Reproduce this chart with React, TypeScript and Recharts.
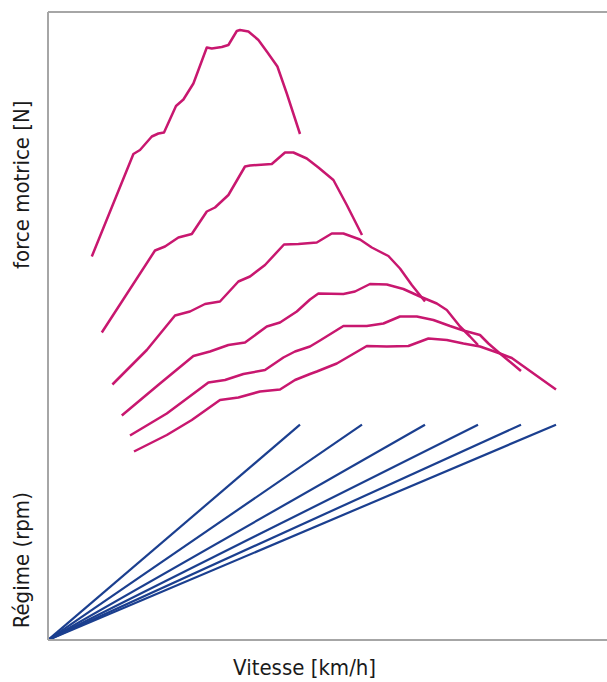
import React from 'react';
import { LineChart, Line, XAxis, YAxis, ReferenceLine } from 'recharts';

// speed [km/h], traction force [N] per gear
const gear1: [number, number][] = [
  [21.9, 7670], [42.7, 9720], [46, 9800], [51.9, 10070], [55.2, 10130], [58, 10150],
  [64, 10680], [67.7, 10810], [72.7, 11130], [79.4, 11850], [81.9, 11830], [86.9, 11860],
  [90.2, 11900], [94.4, 12180], [96, 12200], [100.2, 12170], [105.2, 12000], [109.4, 11770],
  [114.7, 11470], [119.4, 10930], [126, 10120],
];
const gear2: [number, number][] = [
  [26.9, 6150], [53.5, 7790], [58.5, 7870], [65.2, 8050], [71.9, 8120], [79.4, 8570],
  [83.5, 8650], [90.2, 8900], [98.5, 9470], [101, 9490], [111.9, 9520], [118.5, 9750],
  [122.7, 9750], [129.4, 9630], [135.2, 9450], [142.7, 9200], [149.4, 8700], [157, 8100],
];
const gear3: [number, number][] = [
  [32.2, 5110], [49.4, 5800], [63.5, 6490], [71, 6570], [78.5, 6720], [86, 6770],
  [95.2, 7170], [101, 7270], [108.5, 7500], [118, 7910], [125.2, 7920], [134.4, 7950],
  [141.9, 8130], [147.7, 8130], [156, 8010], [161.9, 7850], [170.2, 7680], [176, 7430],
  [181.9, 7100], [188.5, 6770],
];
const gear4: [number, number][] = [
  [36.9, 4490], [56, 5130], [72.7, 5680], [81, 5770], [90.2, 5900], [98.5, 5950],
  [109.4, 6270], [116, 6350], [124.4, 6570], [131, 6810], [135.2, 6930], [147.7, 6920],
  [153.5, 6970], [161, 7120], [169.4, 7110], [177.7, 7020], [186, 6870], [194.4, 6730],
  [199.4, 6600], [206, 6270], [211, 6070], [215, 5900],
];
const gear5: [number, number][] = [
  [41, 4090], [59.4, 4530], [80.2, 5150], [88.5, 5200], [97.7, 5320], [108.5, 5400],
  [117.7, 5650], [123.5, 5770], [131, 5870], [136, 5990], [147.7, 6280], [159.4, 6280],
  [167.7, 6330], [176, 6470], [184.4, 6470], [192.7, 6400], [201, 6280], [207.7, 6190],
  [216, 6100], [220.2, 5930], [226, 5730], [236.5, 5380],
];
const gear6: [number, number][] = [
  [43, 3770], [59.4, 4100], [71.9, 4400], [86, 4800], [95.2, 4850], [106, 4970],
  [116, 5010], [123.5, 5200], [131, 5320], [134.4, 5370], [144.4, 5530], [159.4, 5880],
  [169.4, 5870], [180.2, 5880], [190.2, 6030], [199.4, 6000], [207.7, 5930], [216, 5870],
  [226, 5730], [231.9, 5640], [254, 5010],
];
const forceCurves = [gear1, gear2, gear3, gear4, gear5, gear6];

// engine speed rises linearly with road speed up to the shift point
const topSpeeds = [126, 157, 188.5, 215, 236.5, 254];
const shiftRpm = 6000;

const pink = '#C8176F';
const blue = '#1B3F8F';
const frame = '#A6A6A6';
const font = "'Liberation Sans Narrow', 'DejaVu Sans Condensed', 'Roboto', sans-serif";

const YLabels = (props: any) => {
  const { x, y, width, height } = props.viewBox;
  const cx = x + width / 2 - 2;
  const items = [
    { text: 'force motrice [N]', cy: y + height * 0.275 },
    { text: 'Régime (rpm)', cy: y + height * 0.873 },
  ];
  return (
    <g>
      {items.map((it) => (
        <text
          key={it.text}
          x={cx}
          y={it.cy}
          transform={`rotate(-90 ${cx} ${it.cy})`}
          textAnchor="middle"
          dominantBaseline="central"
          fontSize={22}
          fontFamily={font}
          fill="#1a1a1a"
        >
          {it.text}
        </text>
      ))}
    </g>
  );
};

const XLabel = (props: any) => {
  const { x, y, width } = props.viewBox;
  return (
    <text
      x={x + width * 0.459}
      y={y + 27}
      textAnchor="middle"
      dominantBaseline="central"
      fontSize={22}
      fontFamily={font}
      fill="#1a1a1a"
    >
      Vitesse [km/h]
    </text>
  );
};

export default function App() {
  const forceData = forceCurves.map((c) => c.map(([v, f]) => ({ v, force: f })));
  const rpmData = topSpeeds.map((s) => [
    { v: 0, rpm: 0 },
    { v: s, rpm: shiftRpm },
  ]);

  return (
    <div style={{ position: 'absolute', left: 0, top: 0, background: '#fff' }}>
      <LineChart width={607} height={682} margin={{ top: 12, right: 0, bottom: 0, left: 0 }}>
        <XAxis
          type="number"
          dataKey="v"
          domain={[0, 279.5]}
          allowDataOverflow
          height={42}
          tick={false}
          tickLine={false}
          axisLine={{ stroke: frame, strokeWidth: 2 }}
          label={<XLabel />}
        />
        <YAxis
          yAxisId="force"
          type="number"
          domain={[0, 12560]}
          allowDataOverflow
          width={48}
          tick={false}
          tickLine={false}
          axisLine={{ stroke: frame, strokeWidth: 2 }}
          label={<YLabels />}
        />
        <YAxis yAxisId="rpm" type="number" domain={[0, 17500]} hide allowDataOverflow />
        <ReferenceLine yAxisId="force" y={12560} stroke={frame} strokeWidth={2} ifOverflow="visible" />
        {rpmData.map((d, i) => (
          <Line
            key={`rpm-${i}`}
            yAxisId="rpm"
            data={d}
            dataKey="rpm"
            type="linear"
            stroke={blue}
            strokeWidth={2.2}
            dot={false}
            isAnimationActive={false}
          />
        ))}
        {forceData.map((d, i) => (
          <Line
            key={`force-${i}`}
            yAxisId="force"
            data={d}
            dataKey="force"
            type="linear"
            stroke={pink}
            strokeWidth={2.5}
            strokeLinejoin="round"
            dot={false}
            isAnimationActive={false}
          />
        ))}
      </LineChart>
    </div>
  );
}
